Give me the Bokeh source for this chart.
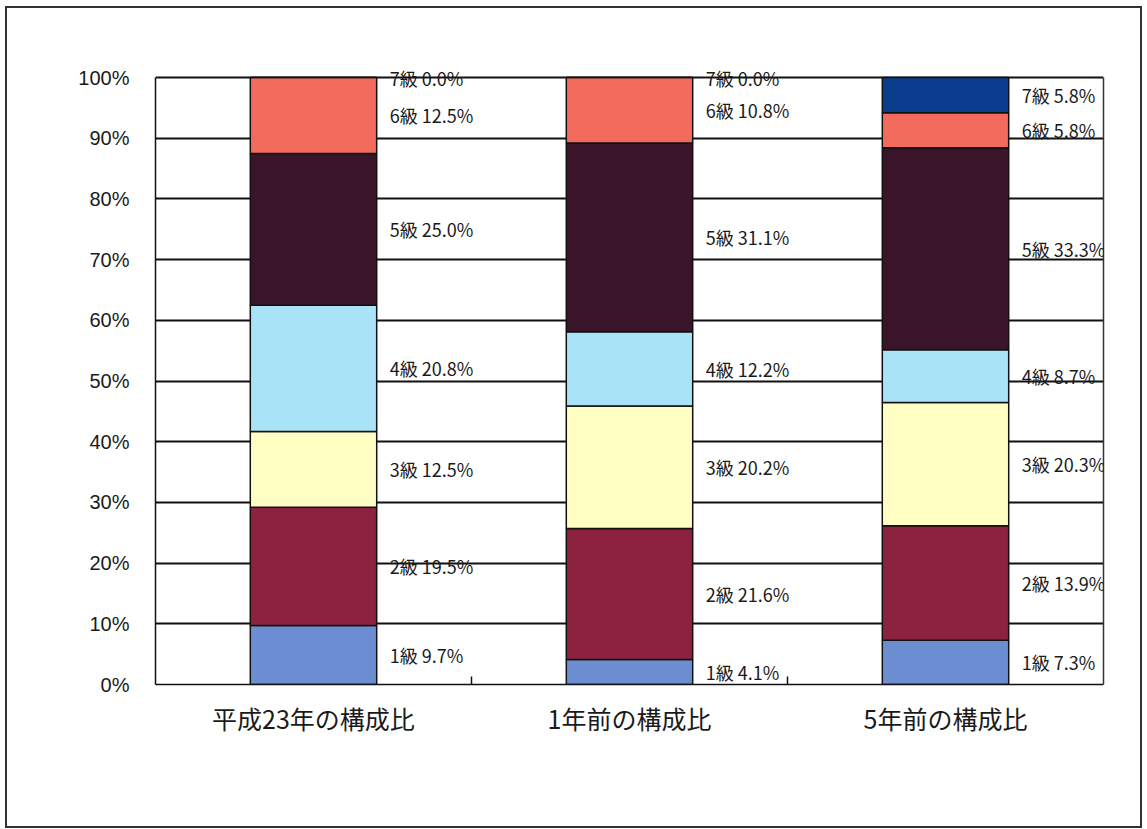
from bokeh.plotting import figure
from bokeh.models import (ColumnDataSource, FixedTicker, PrintfTickFormatter,
                          LabelSet, Range1d, LinearAxis, InlineStyleSheet)
from bokeh.core.properties import value
from bokeh.embed import file_html
from bokeh.resources import INLINE

# ---- data ----
categories = ["平成23年の構成比", "1年前の構成比", "5年前の構成比"]
grades = ["1級", "2級", "3級", "4級", "5級", "6級", "7級"]
h23 = [9.7, 19.5, 12.5, 20.8, 25.0, 12.5, 0.0]
one_year_ago = [4.1, 21.6, 20.2, 12.2, 31.1, 10.8, 0.0]
five_years_ago = [7.3, 18.9, 20.3, 8.7, 33.3, 5.8, 5.8]
# percentages as printed in the data labels
h23_text = ["9.7%", "19.5%", "12.5%", "20.8%", "25.0%", "12.5%", "0.0%"]
one_year_text = ["4.1%", "21.6%", "20.2%", "12.2%", "31.1%", "10.8%", "0.0%"]
five_years_text = ["7.3%", "13.9%", "20.3%", "8.7%", "33.3%", "5.8%", "5.8%"]
y_ticks = [0, 10, 20, 30, 40, 50, 60, 70, 80, 90, 100]

colors = ["#6C8DD2", "#8C2240", "#FFFFC4", "#A9E3F7", "#3A1529", "#F26B5D", "#0B3D8F"]

series = [h23, one_year_ago, five_years_ago]
texts = [h23_text, one_year_text, five_years_text]

frame_css = InlineStyleSheet(css="""
:host { position: relative; }
:host::after {
  content: "";
  position: absolute;
  left: 5px; top: 6px; right: 5px; bottom: 1px;
  border: 2px solid #333333;
  pointer-events: none;
  z-index: 1000;
}
""")

W, H = 1147, 829
p = figure(width=W, height=H, output_backend="svg", toolbar_location=None,
           x_range=Range1d(0, 3), y_range=Range1d(0, 103.3),
           min_border_left=155, min_border_right=44,
           min_border_top=57, min_border_bottom=145,
           stylesheets=[frame_css])
p.background_fill_color = "white"
p.border_fill_color = "white"
p.outline_line_color = None

# bars
xs, bottoms, tops, fills, lx, ly, ltxt = [], [], [], [], [], [], []
for ci, vals in enumerate(series):
    total = sum(vals)
    cum = 0.0
    for gi, v in enumerate(vals):
        b = cum / total * 100
        cum += v
        t = cum / total * 100
        xs.append(ci + 0.5)
        bottoms.append(b)
        tops.append(t)
        fills.append(colors[gi])
        lx.append(ci + 0.5 + 0.2)
        ly.append((b + t) / 2)
        ltxt.append(grades[gi] + " " + texts[ci][gi])

bar_src = ColumnDataSource(dict(x=xs, bottom=bottoms, top=tops, fill=fills))
p.vbar(x="x", bottom="bottom", top="top", width=0.4, source=bar_src,
       fill_color="fill", line_color="#111111", line_width=1.5)

lab_src = ColumnDataSource(dict(x=lx, y=ly, text=ltxt))
labels = LabelSet(x="x", y="y", text="text", source=lab_src, x_offset=13,
                  text_align="left", text_baseline="middle",
                  text_font=value("Noto Sans CJK JP"), text_font_size=value("18px"),
                  text_color="#1a1a1a")
p.add_layout(labels)

# y axis (left) -- its line forms the left edge of the plot area
p.yaxis.ticker = FixedTicker(ticks=y_ticks)
p.yaxis.bounds = (0, 100)
p.yaxis.formatter = PrintfTickFormatter(format="%d%%")
p.yaxis.axis_line_color = "#111111"
p.yaxis.axis_line_width = 1.5
p.yaxis.major_tick_line_color = None
p.yaxis.minor_tick_line_color = None
p.yaxis.major_label_standoff = 20
p.yaxis.major_label_text_font = "Liberation Sans"
p.yaxis.major_label_text_font_size = "20px"
p.yaxis.major_label_text_color = "#1a1a1a"

# right edge of plot area
right_axis = LinearAxis(ticker=FixedTicker(ticks=[]), bounds=(0, 100),
                        axis_line_color="#333333", axis_line_width=1.5,
                        major_tick_line_color=None, minor_tick_line_color=None,
                        major_label_text_font_size="0px")
p.add_layout(right_axis, "right")

# x axis
p.xaxis.ticker = FixedTicker(ticks=[0.5, 1.5, 2.5], minor_ticks=[1, 2])
p.xaxis.major_label_overrides = {0.5: categories[0], 1.5: categories[1], 2.5: categories[2]}
p.xaxis.axis_line_color = "#111111"
p.xaxis.axis_line_width = 1.5
p.xaxis.major_tick_line_color = None
p.xaxis.minor_tick_in = 8
p.xaxis.minor_tick_out = 0
p.xaxis.minor_tick_line_color = "#111111"
p.xaxis.minor_tick_line_width = 1.5
p.xaxis.major_label_standoff = 9
p.xaxis.major_label_text_font = "Noto Sans CJK JP"
p.xaxis.major_label_text_font_size = "25px"
p.xaxis.major_label_text_color = "#1a1a1a"

# grid
p.xgrid.grid_line_color = None
p.ygrid.ticker = FixedTicker(ticks=y_ticks)
p.ygrid.grid_line_color = "#111111"
p.ygrid.grid_line_width = 2

open("out.html", "w").write(file_html(p, INLINE))
